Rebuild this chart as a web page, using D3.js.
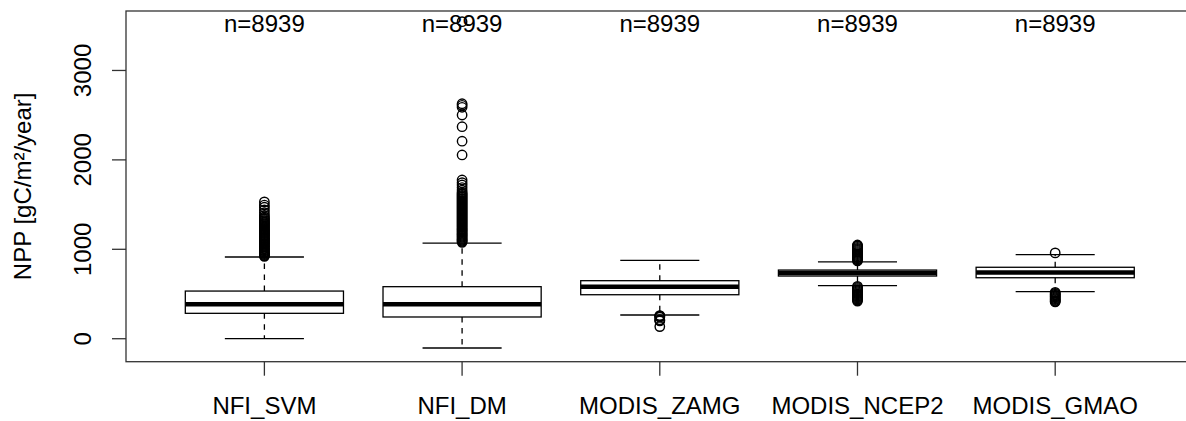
<!DOCTYPE html>
<html>
<head>
<meta charset="utf-8">
<script src="https://cdn.jsdelivr.net/npm/d3@7"></script>
<style>
  body { margin: 0; background: #fff; }
  svg text { font-family: "Liberation Sans", Arial, sans-serif; font-size: 24px; fill: #000; }
</style>
</head>
<body>
<svg id="chart" width="1186" height="421"></svg>
<script>
// values (gC/m2/year)
const categories = ["NFI_SVM", "NFI_DM", "MODIS_ZAMG", "MODIS_NCEP2", "MODIS_GMAO"];
const counts = [8939, 8939, 8939, 8939, 8939];
const lowerWhisker = [0, -104, 265, 593, 526];
const q1 = [284, 243, 492, 701, 682];
const median = [385, 385, 582, 735, 740];
const q3 = [533, 582, 649, 768, 799];
const upperWhisker = [914, 1070, 877, 860, 940];

const outSVM = [921, 930, 941, 952, 960, 971, 983, 992, 1004, 1013, 1025, 1034, 1046, 1057,
  1066, 1078, 1088, 1099, 1110, 1121, 1130, 1142, 1153, 1164, 1175, 1186, 1197, 1208, 1219,
  1230, 1241, 1252, 1263, 1274, 1286, 1297, 1309, 1320, 1333, 1347, 1362, 1380, 1410, 1440,
  1470, 1495, 1530];
const outDM = [1078, 1089, 1100, 1111, 1122, 1134, 1145, 1156, 1167, 1178, 1190, 1201, 1212,
  1223, 1234, 1246, 1257, 1268, 1279, 1290, 1302, 1313, 1324, 1335, 1346, 1358, 1369, 1380,
  1391, 1402, 1414, 1425, 1436, 1447, 1458, 1470, 1481, 1492, 1503, 1514, 1526, 1537, 1548,
  1559, 1570, 1582, 1593, 1604, 1615, 1627, 1640, 1662, 1690, 1719, 1745, 1775, 2055, 2209,
  2371, 2502, 2588, 2610, 2628, 3546];
const outZAMG = [259, 254, 248, 241, 213, 206, 199, 136];
const outNCEP2 = [870, 882, 893, 905, 916, 928, 940, 951, 963, 975, 987, 998, 1010, 1022,
  1034, 1040, 1048, 585, 573, 561, 549, 537, 525, 513, 501, 489, 477, 466, 455, 443, 432, 421];
const outGMAO = [960, 518, 508, 498, 488, 478, 468, 458, 448, 438, 428, 419, 412];
const outliers = [outSVM, outDM, outZAMG, outNCEP2, outGMAO];

const yTicks = [0, 1000, 2000, 3000];
const yTitle = "NPP [gC/m²/year]";

// layout
var dims = { left: 126, top: 11, bottom: 361.7, right: 1196 };

var svg = d3.select("#chart");

// x is the R box index, with 0.5 + 4% padding each side
var xScale = d3.scaleLinear().domain([0.3, 5.7]).range([dims.left, xRight()]);
function xRight() {
  return dims.left + 197.7 * 5.4;
}
var yScale = d3.scaleLinear().domain([-257, 3665]).range([dims.bottom, dims.top]);

var boxHalf = xScale(0.4) - xScale(0);
var capHalf = xScale(0.2) - xScale(0);

var data = categories.map(function (c, i) {
  return {
    name: c, pos: i + 1, n: counts[i],
    lo: lowerWhisker[i], q1: q1[i], med: median[i], q3: q3[i], hi: upperWhisker[i],
    out: outliers[i],
  };
});

var boxes = svg.append("g").selectAll("g").data(data).enter().append("g");

// dashed whiskers
boxes.append("line")
  .attr("x1", (d) => xScale(d.pos)).attr("x2", (d) => xScale(d.pos))
  .attr("y1", (d) => yScale(d.q3)).attr("y2", (d) => yScale(d.hi))
  .attr("stroke", "#000").attr("stroke-width", 1.3).attr("stroke-dasharray", "5.5,5.5");
boxes.append("line")
  .attr("x1", (d) => xScale(d.pos)).attr("x2", (d) => xScale(d.pos))
  .attr("y1", (d) => yScale(d.q1)).attr("y2", (d) => yScale(d.lo))
  .attr("stroke", "#000").attr("stroke-width", 1.3).attr("stroke-dasharray", "5.5,5.5");

// caps
["hi", "lo"].forEach(function (k) {
  boxes.append("line")
    .attr("x1", (d) => xScale(d.pos) - capHalf).attr("x2", (d) => xScale(d.pos) + capHalf)
    .attr("y1", (d) => yScale(d[k])).attr("y2", (d) => yScale(d[k]))
    .attr("stroke", "#000").attr("stroke-width", 1.3);
});

// boxes
boxes.append("rect")
  .attr("x", (d) => xScale(d.pos) - boxHalf)
  .attr("width", boxHalf * 2)
  .attr("y", (d) => yScale(d.q3))
  .attr("height", (d) => yScale(d.q1) - yScale(d.q3))
  .attr("fill", "none").attr("stroke", "#000").attr("stroke-width", 1.3);

// medians
boxes.append("line")
  .attr("x1", (d) => xScale(d.pos) - boxHalf).attr("x2", (d) => xScale(d.pos) + boxHalf)
  .attr("y1", (d) => yScale(d.med)).attr("y2", (d) => yScale(d.med))
  .attr("stroke", "#000").attr("stroke-width", 4.6);

// outliers
boxes.each(function (d) {
  d3.select(this).selectAll("circle").data(d.out).enter().append("circle")
    .attr("cx", xScale(d.pos))
    .attr("cy", (v) => yScale(v))
    .attr("r", 4.7)
    .attr("fill", "none").attr("stroke", "#000").attr("stroke-width", 1.4);
});

// n labels
boxes.append("text")
  .attr("x", (d) => xScale(d.pos)).attr("y", 32.3)
  .attr("text-anchor", "middle")
  .text((d) => "n=" + d.n);

// frame
svg.append("rect")
  .attr("x", dims.left).attr("y", dims.top)
  .attr("width", dims.right - dims.left).attr("height", dims.bottom - dims.top)
  .attr("fill", "none").attr("stroke", "#333").attr("stroke-width", 1.3);

// x axis
var xAxis = svg.append("g");
xAxis.selectAll("line").data(data).enter().append("line")
  .attr("x1", (d) => xScale(d.pos)).attr("x2", (d) => xScale(d.pos))
  .attr("y1", dims.bottom).attr("y2", dims.bottom + 14)
  .attr("stroke", "#333").attr("stroke-width", 1.3);
xAxis.selectAll("text").data(data).enter().append("text")
  .attr("x", (d) => xScale(d.pos)).attr("y", 414)
  .attr("text-anchor", "middle")
  .text((d) => d.name);

// y axis
var yAxis = svg.append("g");
yAxis.selectAll("line").data(yTicks).enter().append("line")
  .attr("x1", dims.left - 14).attr("x2", dims.left)
  .attr("y1", (d) => yScale(d)).attr("y2", (d) => yScale(d))
  .attr("stroke", "#333").attr("stroke-width", 1.3);
yAxis.selectAll("text").data(yTicks).enter().append("text")
  .attr("transform", (d) => "translate(90.5," + yScale(d) + ") rotate(-90)")
  .attr("text-anchor", "middle")
  .text((d) => d);

svg.append("text")
  .attr("transform", "translate(30.5," + (dims.top + dims.bottom) / 2 + ") rotate(-90)")
  .attr("text-anchor", "middle")
  .text(yTitle);
</script>
</body>
</html>
